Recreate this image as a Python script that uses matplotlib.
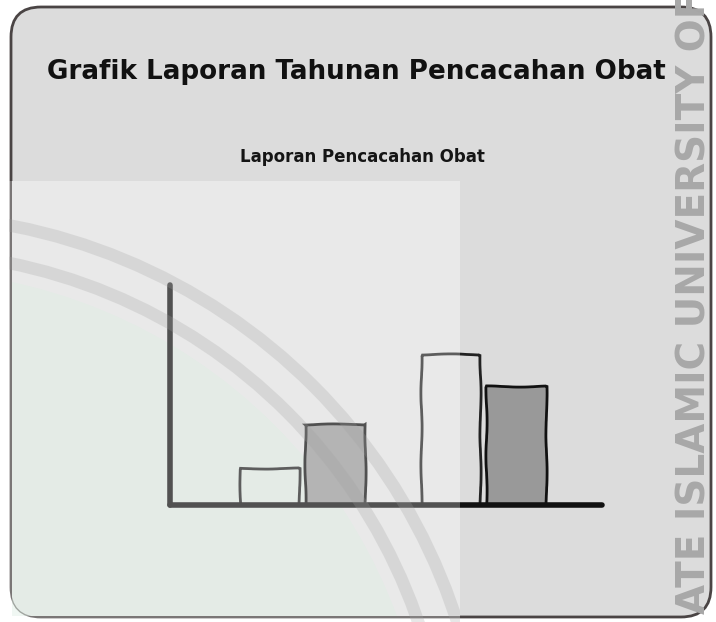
import matplotlib.pyplot as plt
from matplotlib.patches import FancyBboxPatch, Rectangle, Circle, Arc

# Data (mockup bar chart, two series in two groups)
groups = ["Tahun 1", "Tahun 2"]
series_a = [37, 151]   # outlined bars
series_b = [81, 119]   # gray bars

title = "Grafik Laporan Tahunan Pencacahan Obat"
subtitle = "Laporan Pencacahan Obat"
watermark = "ATE ISLAMIC UNIVERSITY OF"

W, H = 716, 622
fig = plt.figure(figsize=(W / 100, H / 100), dpi=100)
fig.patch.set_facecolor("white")

# background panel in pixel coordinates
bg = fig.add_axes([0, 0, 1, 1], zorder=0)
bg.set_xlim(0, W)
bg.set_ylim(H, 0)
bg.axis("off")
frame = FancyBboxPatch((11, 7), 700, 610, boxstyle="round,pad=0,rounding_size=30",
                       facecolor="#dcdcdc", edgecolor="#4a4444", linewidth=2)
bg.add_patch(frame)
light = Rectangle((12, 181), 448, 435, facecolor="#e2e2e2", edgecolor="none")
bg.add_patch(light)
light.set_clip_path(frame)
green = Circle((-100, 800), 530, facecolor="#cfe8d8", alpha=0.4, edgecolor="none")
bg.add_patch(green)
green.set_clip_path(light)

fig.text(356 / W, 1 - 72 / H, title, ha="center", va="center",
         fontsize=18.8, fontweight="bold", color="#111111")
fig.text(362 / W, 1 - 157 / H, subtitle, ha="center", va="center",
         fontsize=12, fontweight="bold", color="#151515")

# chart
ax = fig.add_axes([170 / W, (H - 505) / H, 432 / W, 220 / H], zorder=1)
ax.patch.set_alpha(0)
x = list(range(len(groups)))
bw = 0.331
off = 0.182
bars_a = ax.bar([i - off for i in x], series_a, width=bw, color="none",
                edgecolor="#222222", linewidth=2)
bars_b = ax.bar([i + off for i in x], series_b, width=bw, color="#999999",
                edgecolor="#111111", linewidth=2)
for b in list(bars_a) + list(bars_b):
    b.set_sketch_params(0.6, 80, 2)
ax.set_xlim(-0.732, 1.655)
ax.set_ylim(0, 220)
for s in ["top", "right"]:
    ax.spines[s].set_visible(False)
for s in ["left", "bottom"]:
    ax.spines[s].set_linewidth(4)
    ax.spines[s].set_color("#111111")
    ax.spines[s].set_capstyle("round")
ax.set_xticks([])
ax.set_yticks([])

# watermark layer
ov = fig.add_axes([0, 0, 1, 1], zorder=2)
ov.set_xlim(0, W)
ov.set_ylim(H, 0)
ov.axis("off")
ov.patch.set_alpha(0)
wm_area = Rectangle((9, 181), 451, 441, facecolor="white", alpha=0.27,
                    edgecolor="none")
ov.add_patch(wm_area)
for r in (585, 548):
    arc = Arc((-100, 800), 2 * r, 2 * r, theta1=-90, theta2=90,
              color="#a0a0a0", linewidth=9, alpha=0.25)
    ov.add_patch(arc)
    arc.set_clip_path(Rectangle((9, 181), 451, 441, transform=ov.transData))
ov.text(695, 614, watermark, rotation=90, ha="center", va="bottom",
        fontsize=28, fontweight="bold", color="#a8a8a8", clip_on=True)

fig.savefig("out.png", dpi=100)
